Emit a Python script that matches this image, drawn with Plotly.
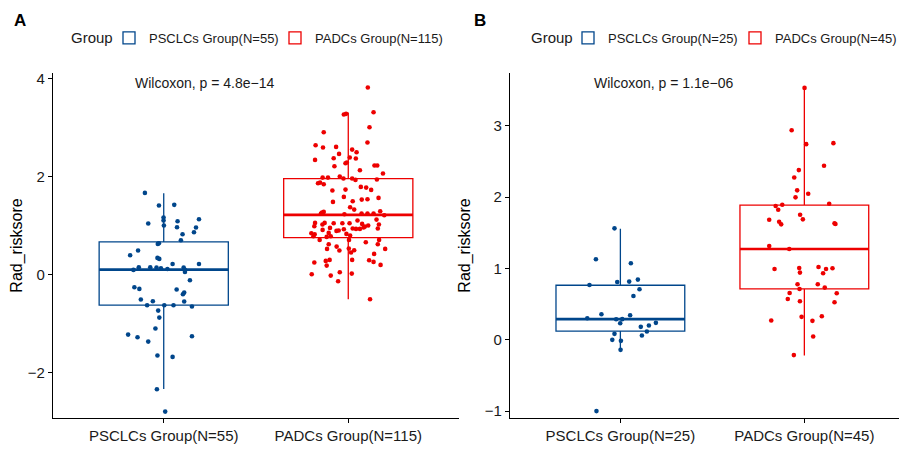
import plotly.graph_objects as go

# ---------------- data ----------------
categories_A = ["PSCLCs Group(N=55)", "PADCs Group(N=115)"]
categories_B = ["PSCLCs Group(N=25)", "PADCs Group(N=45)"]
group_colors = ["#00468B", "#ED0000"]

# Panel A - PSCLCs
A_pscl_vals = [1.673, 1.415, 1.429, 1.17, 1.109, 1.048, 1.007, 1.095, 0.973, 1.136, 0.966, 0.871,
               0.830, 0.707, 0.646, 0.633, 0.497, 0.401, 0.347, 0.327, 0.224, 0.224, 0.156, 0.156,
               0.150, 0.136, 0.150, 0.102, 0.061, 0.102, -0.109, -0.252, -0.286, -0.299, -0.361,
               -0.395, -0.503, -0.537, -0.544, -0.619, -0.619, -0.619, -0.646, -0.728, -0.871,
               -1.095, -1.218, -1.272, -1.252, -1.361, -1.646, -1.673, -2.333, -2.789, 0.12]
A_pscl_jit = [-0.102, -0.026, 0.057, -0.001, -0.001, -0.084, 0.001, 0.075, 0.072, 0.191, 0.175, 0.164,
              0.102, 0.093, -0.026, -0.032, -0.139, -0.182, -0.034, -0.024, 0.048, 0.191, -0.135, -0.073,
              -0.039, -0.015, 0.108, 0.115, 0.115, -0.164, 0.142, -0.159, -0.132, 0.070, 0.111,
              0.104, -0.124, -0.059, 0.111, -0.090, 0.003, 0.053, 0.153, -0.030, -0.024,
              -0.045, -0.193, -0.142, 0.153, -0.084, -0.034, 0.048, -0.037, 0.008, 0.02]

# Panel A - PADCs
A_padc_vals = [3.823, 3.320, 3.272, 3.286, 3.014, 2.912, 2.701, 2.646, 2.599, 2.612, 2.557, 2.504,
               2.469, 2.347, 2.381, 2.395, 2.374, 2.279, 2.293, 2.218, 2.231, 2.231, 2.136, 2.068,
               1.986, 1.986, 2.007, 1.966, 1.966, 1.939, 1.946, 1.871, 1.884, 1.850, 1.796, 1.782,
               1.735, 1.721, 1.741, 1.592, 1.571, 1.490, 1.503, 1.537, 1.544, 1.381, 1.333, 1.299,
               1.272, 1.286, 1.252, 1.238, 1.252, 1.252, 1.252, 1.218, 1.109, 1.129, 1.061, 1.061,
               1.054, 1.054, 1.027, 1.054, 1.041, 0.993, 0.986, 1.007, 1.027, 0.959, 0.946, 0.939,
               0.939, 0.966, 0.918, 0.898, 0.905, 0.932, 0.946, 0.850, 0.830, 0.857, 0.837, 0.803,
               0.789, 0.776, 0.789, 0.714, 0.714, 0.667, 0.714, 0.626, 0.626, 0.578, 0.531, 0.497,
               0.537, 0.503, 0.456, 0.531, 0.429, 0.306, 0.299, 0.265, 0.286, 0.306, 0.252, 0.190,
               0.204, 0.014, -0.014, 0.055, 0.027, -0.129, -0.496]
A_padc_jit = [0.106, 0.137, -0.024, -0.012, 0.115, -0.133, 0.104, -0.177, -0.137, -0.066, 0.021, 0.045,
              -0.050, -0.180, -0.079, 0.008, 0.041, -0.015, -0.008, -0.075, 0.142, 0.157, 0.063, 0.188,
              -0.139, -0.110, -0.046, -0.026, 0.021, 0.039, 0.155, -0.164, -0.153, -0.133, 0.068, 0.097,
              0.124, -0.086, -0.015, -0.024, 0.164, -0.083, 0.024, 0.073, 0.104, 0.010, 0.032, 0.173,
              -0.142, -0.133, -0.148, -0.021, 0.072, 0.104, 0.137, 0.195, 0.050, 0.153, -0.180, -0.128,
              -0.079, -0.032, -0.140, 0.007, 0.075, -0.184, 0.090, 0.108, 0.166, -0.099, 0.024, 0.042,
              0.063, 0.083, -0.139, -0.064, -0.052, -0.024, 0.160, -0.200, -0.182, -0.106, -0.010, 0.010,
              -0.189, -0.117, -0.095, -0.155, 0.004, 0.095, 0.167, 0.160, -0.106, -0.063, -0.115, -0.048,
              0.003, 0.032, 0.015, 0.200, 0.140, 0.021, 0.113, 0.137, -0.122, -0.101, -0.184, -0.117,
              0.175, -0.198, -0.095, -0.046, 0.019, -0.055, 0.118]

# Panel B - PSCLCs
B_pscl_vals = [1.562, 1.129, 1.072, 0.769, 0.811, 0.816, 0.844, 0.709, 0.615, 0.359, 0.345, 0.303,
               0.289, 0.233, 0.182, 0.200, 0.238, 0.117, 0.061, 0.084, 0.0, -0.014, -0.140, -0.998, 0.29]
B_pscl_jit = [-0.032, -0.133, 0.057, -0.168, -0.017, 0.048, 0.095, 0.104, 0.071, -0.103, 0.053, -0.180,
              -0.023, -0.001, 0.111, 0.155, 0.193, 0.144, 0.117, -0.032, -0.044, 0.003, 0.001, -0.130, 0.01]

# Panel B - PADCs
B_padc_vals = [3.529, 2.937, 2.741, 2.755, 2.438, 2.378, 2.275, 2.094, 2.047, 1.996, 1.907, 1.893,
               1.874, 1.823, 1.753, 1.688, 1.683, 1.655, 1.618, 1.632, 1.622, 1.315, 1.273, 0.993,
               1.007, 0.942, 1.021, 0.993, 1.003, 0.932, 0.779, 0.779, 0.713, 0.732, 0.657, 0.653,
               0.573, 0.541, 0.527, 0.270, 0.322, 0.266, 0.331, 0.047, -0.214]
B_padc_jit = [0.001, -0.069, 0.010, 0.158, 0.107, -0.030, -0.055, -0.039, 0.021, -0.048, 0.135, -0.120,
              -0.156, -0.142, -0.023, -0.008, -0.191, -0.137, -0.126, 0.164, 0.169, -0.191, -0.082, -0.162,
              -0.028, -0.024, 0.077, 0.118, 0.153, 0.102, -0.037, 0.073, -0.026, 0.111, -0.080, 0.176,
              -0.090, -0.024, 0.164, -0.180, -0.015, 0.044, 0.095, 0.048, -0.057]

# Box statistics [PSCLCs, PADCs]
A_lower = [-2.327, -0.496]
A_q1 = [-0.618, 0.761]
A_median = [0.108, 1.224]
A_q3 = [0.673, 1.965]
A_upper = [1.667, 3.312]

B_lower = [-0.150, -0.220]
B_q1 = [0.122, 0.713]
B_median = [0.290, 1.273]
B_q3 = [0.765, 1.888]
B_upper = [1.557, 3.534]

pvalue_labels = ["Wilcoxon, p = 4.8e\u221214", "Wilcoxon, p = 1.1e\u221206"]
y_title = "Rad_risksore"
legend_title = "Group"

# ---------------- figure ----------------
FONT = "Liberation Sans, Arial, Helvetica, sans-serif"
PAGE_OFF = 8          # default page body margin
W, H = 907 - PAGE_OFF, 450 - PAGE_OFF
BOX_W = 0.7


def px(x):
    return (x - PAGE_OFF) / W


def py(y):
    return 1 - (y - PAGE_OFF) / H


fig = go.Figure()

panels = [
    dict(xa="x", ya="y", legs=["legend", "legend2"], cats=categories_A,
         vals=[A_pscl_vals, A_padc_vals], jit=[A_pscl_jit, A_padc_jit],
         lo=A_lower, q1=A_q1, med=A_median, q3=A_q3, up=A_upper),
    dict(xa="x2", ya="y2", legs=["legend3", "legend4"], cats=categories_B,
         vals=[B_pscl_vals, B_padc_vals], jit=[B_pscl_jit, B_padc_jit],
         lo=B_lower, q1=B_q1, med=B_median, q3=B_q3, up=B_upper),
]

for p in panels:
    for i in range(2):
        pos = i + 1
        col = group_colors[i]
        fig.add_trace(go.Box(
            x=[pos], q1=[p["q1"][i]], median=[p["med"][i]], q3=[p["q3"][i]],
            lowerfence=[p["lo"][i]], upperfence=[p["up"][i]],
            width=BOX_W, whiskerwidth=0, boxpoints=False,
            line=dict(color=col, width=1.3), fillcolor="rgba(255,255,255,0)",
            name=p["cats"][i], legend=p["legs"][i], showlegend=True,
            xaxis=p["xa"], yaxis=p["ya"], hoverinfo="skip"))
        # thicker median line
        fig.add_trace(go.Scatter(
            x=[pos - BOX_W / 2, pos + BOX_W / 2], y=[p["med"][i], p["med"][i]],
            mode="lines", line=dict(color=col, width=2.6), showlegend=False,
            xaxis=p["xa"], yaxis=p["ya"], hoverinfo="skip"))
        fig.add_trace(go.Scatter(
            x=[pos + j for j in p["jit"][i]], y=p["vals"][i], mode="markers",
            marker=dict(color=col, size=4.6), showlegend=False,
            xaxis=p["xa"], yaxis=p["ya"], hoverinfo="skip"))

axis_common = dict(showline=True, linecolor="black", linewidth=1.1, ticks="outside",
                   ticklen=4, tickcolor="black", tickwidth=1.1, showgrid=False, zeroline=False,
                   tickfont=dict(family=FONT, size=15, color="#1a1a1a"))


def leg(xpix):
    return dict(orientation="h", x=px(xpix), y=py(38), xanchor="left", yanchor="middle",
                font=dict(family=FONT, size=13, color="#1a1a1a"), itemwidth=30,
                bgcolor="rgba(0,0,0,0)", borderwidth=0)


ydom = [py(418), py(73)]
fig.update_layout(
    width=W, height=H, margin=dict(l=0, r=0, t=0, b=0, autoexpand=False),
    plot_bgcolor="white", paper_bgcolor="white",
    font=dict(family=FONT, color="black"),
    xaxis=dict(domain=[px(53), px(459)], range=[0.4, 2.6], tickvals=[1, 2],
               ticktext=categories_A, anchor="y", **axis_common),
    yaxis=dict(domain=ydom, range=[-2.92, 4.12], tickvals=[-2, 0, 2, 4], anchor="x",
               title=dict(text=y_title, font=dict(family=FONT, size=16), standoff=10),
               **axis_common),
    xaxis2=dict(domain=[px(510), 1.0], range=[0.4, 2.558], tickvals=[1, 2],
                ticktext=categories_B, anchor="y2", **axis_common),
    yaxis2=dict(domain=ydom, range=[-1.095, 3.738], tickvals=[-1, 0, 1, 2, 3], anchor="x2",
                title=dict(text=y_title, font=dict(family=FONT, size=16), standoff=10),
                **axis_common),
    legend=leg(131 - 22), legend2=leg(297 - 22), legend3=leg(590 - 22), legend4=leg(757 - 22),
    annotations=[
        dict(text="<b>A</b>", x=px(12), y=py(20), xref="paper", yref="paper",
             xanchor="left", yanchor="middle", showarrow=False, font=dict(family=FONT, size=17)),
        dict(text="<b>B</b>", x=px(472), y=py(20), xref="paper", yref="paper",
             xanchor="left", yanchor="middle", showarrow=False, font=dict(family=FONT, size=17)),
        dict(text=legend_title, x=px(69), y=py(38), xref="paper", yref="paper",
             xanchor="left", yanchor="middle", showarrow=False,
             font=dict(family=FONT, size=15, color="#1a1a1a")),
        dict(text=legend_title, x=px(529), y=py(38), xref="paper", yref="paper",
             xanchor="left", yanchor="middle", showarrow=False,
             font=dict(family=FONT, size=15, color="#1a1a1a")),
        dict(text=pvalue_labels[0], x=0.834, y=3.92, xref="x", yref="y", xanchor="left",
             yanchor="middle", showarrow=False, font=dict(family=FONT, size=14, color="#1a1a1a")),
        dict(text=pvalue_labels[1], x=0.846, y=3.594, xref="x2", yref="y2", xanchor="left",
             yanchor="middle", showarrow=False, font=dict(family=FONT, size=14, color="#1a1a1a")),
    ],
)

fig.write_html("out.html")
